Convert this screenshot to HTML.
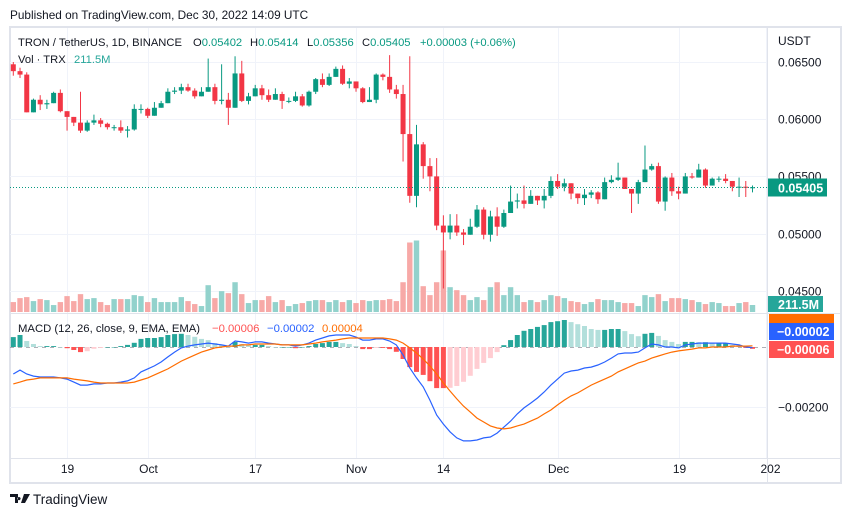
<!DOCTYPE html>
<html><head><meta charset="utf-8">
<style>
html,body{margin:0;padding:0;background:#fff;}
body{width:851px;height:518px;overflow:hidden;font-family:"Liberation Sans",sans-serif;}
svg text{font-family:"Liberation Sans",sans-serif;}
</style></head>
<body>
<svg id="chart" width="851" height="518" viewBox="0 0 851 518" xmlns="http://www.w3.org/2000/svg">
  <text x="10" y="19" font-size="11.8" fill="#131722">Published on TradingView.com, Dec 30, 2022 14:09 UTC</text>
  <rect x="10" y="27" width="831" height="456" fill="#fff" stroke="#e0e3eb" stroke-width="2"/>
  <g id="grid"></g>
  <g id="volume"></g>
  <g id="candles"></g>
  <g id="macd"></g>
  <line x1="10" y1="313.5" x2="841" y2="313.5" stroke="#e0e3eb" stroke-width="1"/>
  <line x1="767.5" y1="27" x2="767.5" y2="483" stroke="#e0e3eb" stroke-width="1"/>
  <line x1="10" y1="458.5" x2="841" y2="458.5" stroke="#e0e3eb" stroke-width="1"/>
  <g id="axes"></g>
  <g font-size="11.2">
    <text x="18" y="46" fill="#131722">TRON / TetherUS, 1D, BINANCE<tspan x="193" fill="#131722">O</tspan><tspan fill="#089981">0.05402</tspan><tspan x="250" fill="#131722">H</tspan><tspan fill="#089981">0.05414</tspan><tspan x="307" fill="#131722">L</tspan><tspan fill="#089981">0.05356</tspan><tspan x="362" fill="#131722">C</tspan><tspan fill="#089981">0.05405</tspan><tspan x="420" fill="#089981">+0.00003 (+0.06%)</tspan></text>
    <text x="18" y="63" fill="#131722">Vol · TRX <tspan x="74" fill="#26a69a">211.5M</tspan></text>
  </g>
  <text x="18" y="332" font-size="11.3" fill="#131722">MACD (12, 26, close, 9, EMA, EMA) <tspan x="212" fill="#ff5252">−0.00006</tspan><tspan x="267" fill="#2962ff">−0.00002</tspan><tspan x="322" fill="#ff6d00">0.00004</tspan></text>
  <g>
    <path d="M10 494h8v9h-3v-6h-5z M19 497a1.6 1.6 0 1 0 0.01 0z M24 494h6l-5 9h-4z" fill="#131722"/>
    <text x="33" y="504" font-size="13.5" fill="#131722">TradingView</text>
  </g>
</svg>
<script>
// ---- data ----
const tickLabels = ["19","Oct","17","Nov","14","Dec","19","202"];
const tickIndex = [8,20,36,51,64,81,99,112];
const priceTicks = [0.065,0.060,0.055,0.050,0.045];
const firstOpen = 0.0648;
const closes = [.0642,.0639,.0606,.0617,.0613,.0614,.0623,.0607,.0602,.0597,
.0590,.0597,.0599,.0596,.0593,.0593,.0590,.0591,.0609,.0609,
.0603,.0610,.0614,.0624,.0625,.0628,.0625,.0620,.0624,.0628,
.0616,.0617,.0610,.0640,.0616,.0620,.0627,.0621,.0617,.0622,
.0616,.0616,.0620,.0612,.0624,.0635,.0630,.0637,.0644,.0631,
.0633,.0627,.0615,.0617,.0639,.0637,.0626,.0622,.0587,.0533,
.0578,.0559,.0550,.0507,.0501,.0507,.0501,.0499,.0506,.0521,
.0499,.0515,.0506,.0518,.0528,.0529,.0526,.0533,.0529,.0533,
.0546,.0541,.0544,.0535,.0531,.0534,.0536,.0530,.0545,.0547,
.0549,.0539,.0535,.0545,.0556,.0559,.0528,.0549,.0537,.0535,
.0550,.0549,.0556,.0542,.0548,.0548,.0546,.0541,.0541,.0540,.05405];
const highs = [.0650,.0645,.0641,.0618,.0621,.0617,.0624,.0626,.0604,.0601,
.0624,.0599,.0604,.0601,.0597,.0595,.0599,.0594,.0613,.0613,
.0610,.0615,.0616,.0627,.0628,.0631,.0631,.0627,.0628,.0653,
.0631,.0648,.0623,.0655,.0651,.0623,.0630,.0630,.0626,.0627,
.0624,.0619,.0624,.0622,.0625,.0636,.0640,.0640,.0646,.0647,
.0636,.0633,.0628,.0628,.0640,.0640,.0656,.0630,.0630,.0655,
.0595,.0580,.0566,.0566,.0516,.0517,.0517,.0504,.0513,.0525,
.0523,.0520,.0523,.0521,.0542,.0535,.0542,.0538,.0532,.0539,
.0550,.0552,.0548,.0543,.0535,.0539,.0538,.0537,.0549,.0551,
.0562,.0549,.0537,.0547,.0577,.0561,.0562,.0550,.0553,.0541,
.0553,.0553,.0561,.0557,.0549,.0550,.0552,.0546,.0549,.0546,.0542];
const lows = [.0638,.0636,.0606,.0606,.0608,.0609,.0614,.0606,.0590,.0594,
.0588,.0589,.0595,.0593,.0591,.0590,.0588,.0584,.0590,.0605,
.0601,.0606,.0612,.0620,.0622,.0622,.0624,.0618,.0620,.0627,
.0613,.0613,.0595,.0611,.0615,.0613,.0620,.0617,.0615,.0618,
.0609,.0614,.0615,.0611,.0611,.0622,.0628,.0629,.0637,.0630,
.0627,.0624,.0614,.0616,.0614,.0634,.0623,.0618,.0563,.0527,
.0523,.0548,.0537,.0503,.0452,.0495,.0498,.0490,.0505,.0505,
.0495,.0493,.0498,.0505,.0524,.0522,.0522,.0532,.0525,.0522,
.0531,.0539,.0537,.0530,.0526,.0525,.0531,.0526,.0530,.0544,
.0546,.0539,.0518,.0526,.0548,.0555,.0526,.0520,.0533,.0530,
.0536,.0548,.0549,.0540,.0542,.0545,.0544,.0537,.0532,.0532,.0536];
const volumesM = [300,420,450,330,390,360,210,300,480,330,
540,390,420,300,210,390,390,390,510,480,
300,420,300,300,300,450,330,240,180,810,
420,630,570,900,540,270,360,360,480,300,
360,180,240,270,330,360,360,300,360,300,
360,270,360,330,360,360,390,330,900,2100,
2160,780,510,900,1860,750,660,510,360,450,
360,750,900,510,750,510,300,360,300,360,
510,480,420,330,300,240,300,390,360,360,
300,270,270,180,510,450,540,330,420,420,
390,360,300,240,300,270,180,180,270,300,211.5];
// MACD and signal in units of 0.00001
const macdLine = [-90,-77,-90,-97,-100,-100,-100,-103,-107,-117,
-127,-127,-123,-123,-120,-120,-117,-113,-103,-83,
-73,-63,-50,-33,-17,-3,3,7,10,13,
10,7,3,20,17,13,17,17,13,10,
7,7,3,7,13,23,30,37,40,40,
40,33,23,23,27,27,20,7,-27,-70,
-103,-133,-177,-227,-257,-283,-303,-313,-313,-310,
-303,-300,-287,-267,-247,-223,-203,-187,-170,-150,
-127,-107,-87,-80,-77,-70,-67,-60,-50,-37,
-23,-20,-20,-17,-3,10,7,0,0,-3,
7,10,13,13,13,13,13,10,7,0,-2];
const signalLine = [-123,-117,-110,-107,-103,-103,-103,-103,-103,-107,
-110,-113,-117,-120,-120,-120,-120,-120,-117,-110,
-103,-93,-83,-73,-60,-47,-37,-27,-17,-10,
-3,0,3,3,7,7,10,10,10,10,
7,7,7,7,10,13,17,20,23,27,
30,30,30,30,30,30,27,23,13,-3,
-20,-40,-63,-90,-120,-147,-173,-197,-217,-237,
-250,-263,-270,-273,-270,-263,-257,-247,-237,-223,
-210,-193,-177,-163,-153,-140,-127,-117,-107,-97,
-83,-73,-63,-53,-47,-37,-30,-23,-17,-13,
-10,-7,-3,-3,0,0,0,3,3,3,4];
const macdTicks = [-0.002];

// ---- scales ----
const NS = "http://www.w3.org/2000/svg";
const X0 = 13.3, STEP = 6.72;
const xAt = i => X0 + i*STEP;
const yPrice = p => 62 + (0.065 - p)*11440;
const VOL_BASE = 312, VOL_PX = 7/211.5;
const yVol = v => VOL_BASE - v*VOL_PX;
const MACD_ZERO = 347, MACD_PX = 30000, UNIT = 1e-5;
const yMacd = v => MACD_ZERO - v*UNIT*MACD_PX;
function mk(tag, attrs, parent){
  const e = document.createElementNS(NS, tag);
  for (const k in attrs) e.setAttribute(k, attrs[k]);
  parent.appendChild(e);
  return e;
}
const grid = document.getElementById('grid');
const axes = document.getElementById('axes');
const vg = document.getElementById('volume');
const cg = document.getElementById('candles');
const mg = document.getElementById('macd');
const UP = '#089981', DN = '#f23645';

priceTicks.forEach(p => {
  const y = Math.round(yPrice(p)) + 0.5;
  const l = mk('line', {x1:10, x2:767, y1:y, y2:y, stroke:'#f0f3fa', 'stroke-width':1}, grid);
  
  
  const t = mk('text', {x:778, y:y+4, 'font-size':12, fill:'#131722'}, axes);
  t.textContent = p.toFixed(5);
  
  
});
{
  const t = mk('text', {x:778, y:45, 'font-size':12, fill:'#131722'}, axes);
  t.textContent = 'USDT';
  
  
}
macdTicks.forEach(v => {
  const y = Math.round(yMacd(v/UNIT)) + 0.5;
  const l = mk('line', {x1:10, x2:767, y1:y, y2:y, stroke:'#f0f3fa', 'stroke-width':1}, grid);
  
  
  const t = mk('text', {x:778, y:y+4, 'font-size':12, fill:'#131722'}, axes);
  t.textContent = '\u2212' + Math.abs(v).toFixed(5);
  
  
});
tickIndex.forEach((ti, k) => {
  const x = Math.round(xAt(ti)) + 0.5;
  const l = mk('line', {x1:x, x2:x, y1:28, y2:458, stroke:'#f0f3fa', 'stroke-width':1}, grid);
  
  
  const last = k===tickLabels.length-1;
  const t = mk('text', {x: last ? x-6 : x, y:473, 'font-size':12, fill:'#131722', 'text-anchor': last ? 'start' : 'middle'}, axes);
  t.textContent = tickLabels[k];
  
  
});

const opens = closes.map((c,i) => i===0 ? firstOpen : closes[i-1]);
closes.forEach((c,i) => {
  const o = opens[i];
  const up = c >= o;
  const col = up ? UP : DN;
  const x = xAt(i);
  const hi = Math.max(highs[i], o, c), lo = Math.min(lows[i], o, c);
  const w = mk('line', {x1:x, x2:x, y1:yPrice(hi), y2:yPrice(lo), stroke:col, 'stroke-width':1}, cg);
  
  
  const yt = yPrice(Math.max(o,c)), yb = yPrice(Math.min(o,c));
  const b = mk('rect', {x:x-2.5, y:yt, width:5, height:Math.max(1, yb-yt), fill:col}, cg);
  
  
  const vy = yVol(volumesM[i]);
  const v = mk('rect', {x:x-2.7, y:vy, width:5.4, height:VOL_BASE-vy, fill: up ? '#92d2cc' : '#f7a9a7'}, vg);
  
  
});

{
  const lp = closes[closes.length-1];
  const y = Math.round(yPrice(lp)) + 0.5;
  const l = mk('line', {x1:10, x2:767, y1:y, y2:y, stroke:UP, 'stroke-width':1, 'stroke-dasharray':'1 2'}, cg);
  
  
  const r = mk('rect', {x:768, y:y-9, width:59, height:18, fill:UP}, axes);
  
  
  const t = mk('text', {x:778, y:y+5, 'font-size':12.5, 'font-weight':'bold', fill:'#fff'}, axes);
  t.textContent = lp.toFixed(5);
  
  
}

{
  const z = mk('line', {x1:10, x2:767, y1:MACD_ZERO+0.5, y2:MACD_ZERO+0.5, stroke:'#787b86', 'stroke-width':1, 'stroke-dasharray':'4 4', opacity:0.6}, mg);
  
  
  const hist = macdLine.map((m,i) => m - signalLine[i]);
  hist.forEach((h,i) => {
    const prev = i>0 ? hist[i-1] : h;
    let col;
    if (h >= 0) col = h >= prev ? '#26a69a' : '#b2dfdb';
    else col = h <= prev ? '#ff5252' : '#ffcdd2';
    const y1 = yMacd(Math.max(h,0)), y2 = yMacd(Math.min(h,0));
    const r = mk('rect', {x:xAt(i)-2.5, y:y1, width:5, height:Math.max(0.5,y2-y1), fill:col}, mg);
    
    
  });
  const pts = arr => arr.map((v,i) => xAt(i).toFixed(1)+','+yMacd(v).toFixed(1)).join(' ');
  const ml = mk('polyline', {points:pts(macdLine), fill:'none', stroke:'#2962ff', 'stroke-width':1.2}, mg);
  
  
  const sl = mk('polyline', {points:pts(signalLine), fill:'none', stroke:'#ff6d00', 'stroke-width':1.2}, mg);
  
  
}

{
  const vb = mk('rect', {x:768, y:296, width:55, height:16, fill:'#26a69a'}, axes);
  
  
  const vt = mk('text', {x:778, y:309, 'font-size':12.5, 'font-weight':'bold', fill:'#fff'}, axes);
  vt.textContent = volumesM[volumesM.length-1].toFixed(1) + 'M';
  
  
  const badges = [
    {y:314, h:9, col:'#ff6d00', txt:'0.00004', name:'signal-badge'},
    {y:323, h:17, col:'#2962ff', txt:'\u22120.00002', name:'macd-badge'},
    {y:341, h:17, col:'#ff5252', txt:'\u22120.00006', name:'histogram-badge'}
  ];
  badges.forEach(b => {
    const r = mk('rect', {x:769, y:b.y, width:65, height:b.h, fill:b.col}, axes);
    
    
    if (b.h > 10) {
      const t = mk('text', {x:777, y:b.y+13, 'font-size':12.5, 'font-weight':'bold', fill:'#fff'}, axes);
      t.textContent = b.txt;
      
      
    }
  });
}
</script>
</body></html>
